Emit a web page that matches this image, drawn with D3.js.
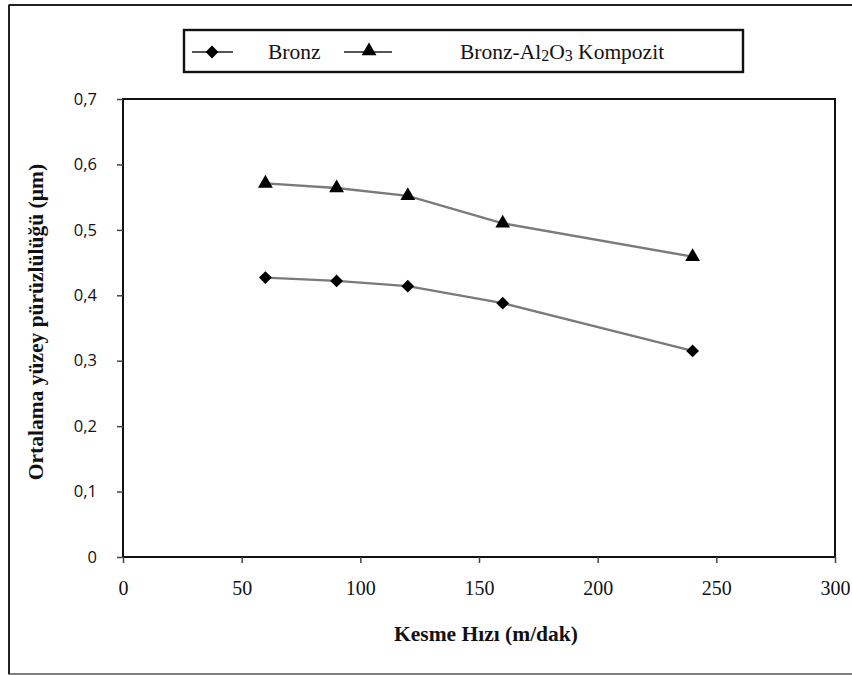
<!DOCTYPE html>
<html><head><meta charset="utf-8">
<script src="https://cdn.jsdelivr.net/npm/d3@7"></script>
<style>body{margin:0;background:#fff}svg{display:block}</style>
</head><body>
<svg id="c" width="852" height="675"></svg>
<script>
const speeds = [60, 90, 120, 160, 240];
const bronz = [0.427, 0.422, 0.414, 0.388, 0.315];
const kompozit = [0.571, 0.564, 0.552, 0.510, 0.459];
const xTicks = [0, 50, 100, 150, 200, 250, 300];
const yTicks = [0, 0.1, 0.2, 0.3, 0.4, 0.5, 0.6, 0.7];
const seriesNames = ["Bronz", "Bronz-Al2O3 Kompozit"];

const svg = d3.select("#c");
// outer frame
svg.append("rect").attr("x", 9).attr("y", 5).attr("width", 860).attr("height", 669)
  .attr("fill", "none").attr("stroke", "#555").attr("stroke-width", 1.5);
svg.append("line").attr("x1", 9).attr("x2", 9).attr("y1", 5).attr("y2", 674).attr("stroke", "#222").attr("stroke-width", 2);
svg.append("line").attr("x1", 9).attr("x2", 852).attr("y1", 5).attr("y2", 5).attr("stroke", "#222").attr("stroke-width", 2);

const L = 123, R = 835, T = 99, B = 557;
const x = d3.scaleLinear().domain([0, 300]).range([L, R]);
const y = d3.scaleLinear().domain([0, 0.7]).range([B, T]);

// plot border
svg.append("rect").attr("x", L).attr("y", T).attr("width", R - L).attr("height", B - T)
  .attr("fill", "none").attr("stroke", "#111").attr("stroke-width", 2);

const xAxis = svg.append("g").attr("transform", `translate(0,${B})`)
  .call(d3.axisBottom(x).tickValues(xTicks).tickSize(6).tickSizeOuter(0).tickPadding(18).tickFormat(d3.format("d")));
xAxis.select(".domain").remove();
xAxis.selectAll("line").attr("stroke", "#444").attr("stroke-width", 1.5);
xAxis.selectAll("text").attr("font-family", "'Liberation Serif', serif").attr("font-size", 20).attr("fill", "#111");

const yAxis = svg.append("g").attr("transform", `translate(${L},0)`)
  .call(d3.axisLeft(y).tickValues(yTicks).tickSize(6).tickSizeOuter(0).tickPadding(20)
    .tickFormat(d => d3.format(".1f")(d).replace(".", ",").replace(/^0,0$/, "0")));
yAxis.select(".domain").remove();
yAxis.selectAll("line").attr("stroke", "#444").attr("stroke-width", 1.5);
yAxis.selectAll("text").attr("font-family", "'Open Sans', sans-serif").attr("font-size", 16.5).attr("fill", "#111");

const line = d3.line().x(d => x(d[0])).y(d => y(d[1]));
const dataB = speeds.map((s, i) => [s, bronz[i]]);
const dataK = speeds.map((s, i) => [s, kompozit[i]]);

[dataB, dataK].forEach(d => svg.append("path").datum(d).attr("d", line)
  .attr("fill", "none").attr("stroke", "#7a7a7a").attr("stroke-width", 2.4));

const diamond = d3.symbol().type(d3.symbolDiamond2).size(105);
const tri = d3.symbol().type(d3.symbolTriangle).size(95);
svg.selectAll(".mb").data(dataB).join("path").attr("d", diamond)
  .attr("transform", d => `translate(${x(d[0])},${y(d[1])})`).attr("fill", "#000");
svg.selectAll(".mk").data(dataK).join("path").attr("d", tri)
  .attr("transform", d => `translate(${x(d[0])},${y(d[1])})`).attr("fill", "#000");

// legend
const lg = svg.append("g");
lg.append("rect").attr("x", 184).attr("y", 30).attr("width", 559).attr("height", 42)
  .attr("fill", "#fff").attr("stroke", "#111").attr("stroke-width", 2.4);
lg.append("line").attr("x1", 192).attr("x2", 233).attr("y1", 52).attr("y2", 52).attr("stroke", "#555").attr("stroke-width", 2);
lg.append("path").attr("d", diamond).attr("transform", "translate(212,52)").attr("fill", "#000");
lg.append("text").attr("x", 268).attr("y", 59).text(seriesNames[0])
  .attr("font-family", "'Liberation Serif', serif").attr("font-size", 21.5).attr("fill", "#111");
lg.append("line").attr("x1", 344).attr("x2", 392).attr("y1", 52).attr("y2", 52).attr("stroke", "#555").attr("stroke-width", 2);
lg.append("path").attr("d", tri).attr("transform", "translate(369,51)").attr("fill", "#000");
const t2 = lg.append("text").attr("x", 460).attr("y", 59)
  .attr("font-family", "'Liberation Serif', serif").attr("font-size", 21.5).attr("fill", "#111");
t2.append("tspan").text("Bronz-Al");
t2.append("tspan").text("2").attr("font-size", 16).attr("dy", 2);
t2.append("tspan").text("O").attr("dy", -2);
t2.append("tspan").text("3").attr("font-size", 16).attr("dy", 2);
t2.append("tspan").text(" Kompozit").attr("dy", -2);

// axis titles
svg.append("text").attr("x", 486).attr("y", 641).attr("text-anchor", "middle")
  .attr("font-family", "'Liberation Serif', serif").attr("font-weight", "bold").attr("font-size", 21.5)
  .attr("fill", "#111").text("Kesme Hızı (m/dak)");
svg.append("text").attr("transform", "translate(43,322) rotate(-90)").attr("text-anchor", "middle")
  .attr("font-family", "'Liberation Serif', serif").attr("font-weight", "bold").attr("font-size", 21.5)
  .attr("fill", "#111").text("Ortalama yüzey pürüzlülüğü (µm)");
</script>
</body></html>
